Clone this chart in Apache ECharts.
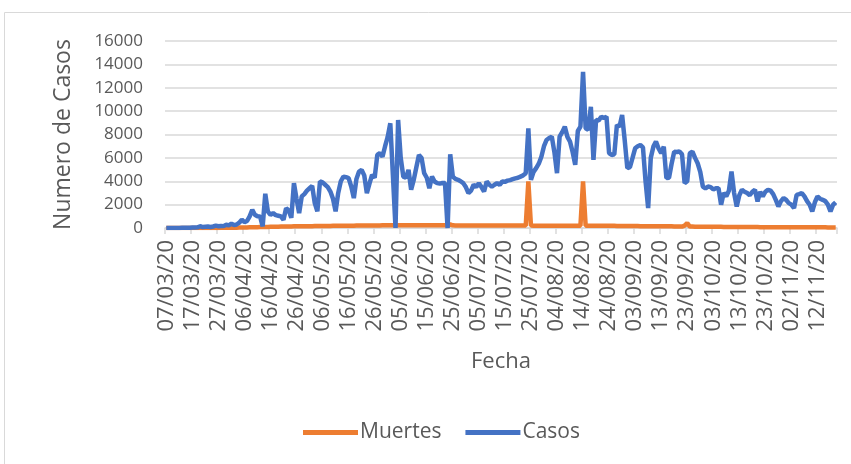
<!DOCTYPE html>
<html>
<head>
<meta charset="utf-8">
<script src="https://cdn.jsdelivr.net/npm/echarts@6/dist/echarts.min.js"></script>
<style>
  html, body { margin: 0; padding: 0; background: #fff; }
  #chart { width: 851px; height: 464px; }
</style>
</head>
<body>
<div id="chart"></div>
<script>
// first day of the series, one category per day
const startDate = [2020, 2, 7];
const dayCount = 258;

const casos = [
  0, 2, 3, 5, 8, 10, 15, 20, 25, 30,
  40, 50, 60, 150, 80, 100, 120, 90, 130, 200,
  150, 180, 160, 280, 220, 370, 250, 300, 450, 710,
  500, 600, 1000, 1560, 1130, 1000, 990, 140, 2930, 1400,
  1130, 1270, 1100, 1050, 990, 700, 1700, 1500, 880, 3840,
  2500, 1280, 2700, 2900, 3200, 3400, 3600, 2130, 1420, 3980,
  3900, 3700, 3500, 3120, 2500, 1420, 3000, 4000, 4400, 4350,
  4270, 3550, 2560, 4200, 4830, 4970, 4500, 2990, 3800, 4550,
  4300, 6250, 6400, 6100, 7000, 7800, 8960, 4500, 0, 9240,
  6000, 4400, 4300, 4970, 3270, 4120, 5200, 6250, 6000, 4690,
  4300, 3410, 4400, 3980, 3840, 3800, 3850, 3840, 0, 6300,
  4400, 4200, 4120, 4000, 3840, 3500, 2990, 3200, 3700, 3500,
  3840, 3500, 3120, 3980, 3700, 3550, 3700, 3840, 3700, 3980,
  3950, 4050, 4100, 4180, 4250, 4300, 4400, 4500, 4690, 8530,
  4120, 4800, 5120, 5500, 6100, 7000, 7530, 7700, 7810, 6500,
  4690, 7810, 8200, 8670, 7800, 7390, 6500, 5400, 8300, 8670,
  13360, 8530, 8400, 10370, 5830, 9240, 9200, 9520, 9400, 9520,
  6400, 6250, 6300, 8810, 8670, 9660, 7500, 5120, 5200, 6000,
  6820, 7000, 7100, 6900, 4000, 1700, 6000, 6960, 7390, 6800,
  6400, 6960, 4270, 4300, 5500, 6530, 6500, 6550, 6300, 3840,
  4000, 6400, 6530, 6000, 5540, 4800, 3550, 3400, 3550, 3500,
  3300, 3400, 3410, 1990, 3000, 2700, 3200, 4830, 2990, 1840,
  2800, 3270, 3100, 2990, 2800, 3100, 3270, 2270, 3100, 2700,
  3100, 3270, 3200, 2900, 2400, 1840, 2300, 2560, 2400, 2130,
  2000, 1700, 2840, 2900, 2990, 2700, 2300, 1990, 1420, 2200,
  2700, 2500, 2410, 2300, 2000, 1420, 1990, 2200
];

const muertes = [
  0, 0, 0, 0, 0, 0, 0, 0, 0, 0,
  0, 0, 0, 1, 1, 2, 3, 4, 5, 8,
  10, 12, 15, 18, 20, 25, 28, 30, 35, 40,
  45, 50, 55, 60, 65, 70, 75, 80, 85, 90,
  100, 105, 110, 115, 120, 125, 130, 130, 135, 140,
  140, 145, 150, 150, 155, 160, 160, 165, 170, 170,
  175, 175, 180, 180, 185, 185, 190, 190, 195, 195,
  200, 200, 200, 205, 205, 210, 210, 210, 215, 215,
  220, 220, 220, 225, 225, 230, 230, 230, 230, 230,
  230, 230, 230, 230, 230, 230, 230, 230, 230, 230,
  230, 230, 230, 230, 230, 230, 230, 230, 230, 300,
  230, 220, 220, 220, 220, 220, 220, 220, 220, 220,
  210, 210, 210, 210, 210, 210, 210, 210, 210, 210,
  210, 210, 210, 210, 210, 210, 210, 210, 210, 3980,
  210, 200, 200, 200, 200, 200, 200, 200, 200, 200,
  200, 200, 200, 200, 200, 200, 200, 200, 200, 200,
  3980, 200, 200, 200, 200, 200, 200, 190, 190, 190,
  190, 190, 190, 180, 180, 180, 180, 170, 170, 170,
  170, 170, 160, 160, 160, 160, 150, 150, 150, 150,
  150, 140, 140, 140, 140, 130, 130, 130, 120, 200,
  430, 120, 120, 110, 110, 110, 100, 100, 100, 100,
  100, 100, 100, 100, 90, 90, 90, 90, 90, 90,
  80, 80, 80, 80, 80, 80, 80, 80, 70, 70,
  70, 70, 70, 70, 70, 70, 60, 60, 60, 60,
  60, 60, 60, 60, 60, 60, 60, 60, 60, 60,
  60, 60, 60, 60, 50, 50, 50, 50
];

const fechas = [];
for (let i = 0; i < dayCount; i++) {
  const d = new Date(startDate[0], startDate[1], startDate[2] + i);
  const dd = String(d.getDate()).padStart(2, "0");
  const mm = String(d.getMonth() + 1).padStart(2, "0");
  const yy = String(d.getFullYear()).slice(2);
  fechas.push(dd + "/" + mm + "/" + yy);
}

const font = "'Open Sans', 'Noto Sans', sans-serif";
const gray = "#595959";
const gridColor = "#d9d9d9";

const chart = echarts.init(document.getElementById("chart"));
chart.setOption({
  animation: false,
  textStyle: { fontFamily: font },
  graphic: [
    {
      type: "rect",
      shape: { x: 4.5, y: 12.5, width: 860, height: 460 },
      style: { fill: "none", stroke: gridColor, lineWidth: 1 },
      silent: true,
    },
  ],
  grid: { left: 165, right: 14, top: 41, bottom: 236 },
  legend: {
    bottom: 16,
    left: 298,
    itemWidth: 55,
    itemHeight: 5,
    itemGap: 24,
    icon: "rect",
    textStyle: { color: gray, fontSize: 21, fontFamily: font, padding: [0, 0, 0, -3] },
    data: ["Muertes", "Casos"],
  },
  xAxis: {
    type: "category",
    data: fechas,
    name: "Fecha",
    nameLocation: "middle",
    nameGap: 123,
    nameTextStyle: { color: gray, fontSize: 22, fontFamily: font },
    axisLine: { lineStyle: { color: gridColor, width: 1.5 } },
    axisTick: { show: true, interval: 9, length: 6, lineStyle: { color: gridColor, width: 1.5 } },
    axisLabel: { interval: 9, rotate: 90, color: gray, fontSize: 22, margin: 12, fontFamily: font },
  },
  yAxis: {
    type: "value",
    min: 0,
    max: 16000,
    interval: 2000,
    name: "Numero de Casos",
    nameLocation: "middle",
    nameGap: 90,
    nameTextStyle: { color: gray, fontSize: 23, fontFamily: font },
    axisLine: { show: false },
    axisTick: { show: false },
    axisLabel: {
      color: gray,
      fontSize: 17,
      margin: 22,
      fontFamily: font,
      formatter: (v) => String(v),
    },
    splitLine: { lineStyle: { color: gridColor, width: 1.5 } },
  },
  series: [
    {
      name: "Muertes",
      type: "line",
      data: muertes,
      symbol: "none",
      color: "#ED7D31",
      lineStyle: { width: 4.5, color: "#ED7D31" },
    },
    {
      name: "Casos",
      type: "line",
      data: casos,
      symbol: "none",
      color: "#4472C4",
      lineStyle: { width: 4.5, color: "#4472C4" },
    },
  ],
});
</script>
</body>
</html>
